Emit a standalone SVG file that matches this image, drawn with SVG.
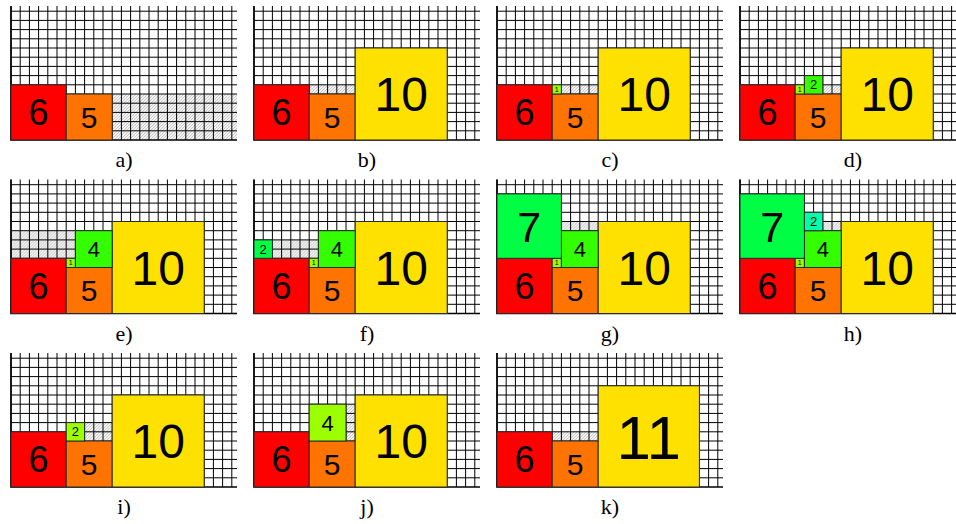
<svg xmlns="http://www.w3.org/2000/svg" xmlns:xlink="http://www.w3.org/1999/xlink" width="956" height="524" viewBox="0 0 956 524">
<style>
.grid{fill:none;stroke:#000;stroke-width:1}
.base{fill:none;stroke:#000;stroke-width:1.6}
.hatch{fill:url(#hp);stroke:none}
.b{stroke:#2a2a2a;stroke-width:1}
.red{fill:#ff0000}.org{fill:#ff7400}.yel{fill:#ffe100}
.lime{fill:#9cff00}.grn{fill:#33ff00}.g7{fill:#00ff44}.aqua{fill:#00ffa8}
.n{font-family:"Liberation Sans",Arial,sans-serif;fill:#000;text-anchor:middle}
.cap{font-family:"Liberation Serif","Times New Roman",serif;font-size:22px;fill:#000;text-anchor:middle}
</style>
<defs>
<pattern id="hp" patternUnits="userSpaceOnUse" width="3" height="3">
<rect width="3" height="3" fill="#f3f3f3"/>
<path d="M0 3L3 0M-1 1L1 -1M2 4L4 2" stroke="#b4b4b4" stroke-width="0.7"/>
</pattern>
<g id="grid">
<path class="grid" d="M0 0V134M9.2 0V134M18.4 0V134M27.6 0V134M36.8 0V134M46 0V134M55.2 0V134M64.4 0V134M73.6 0V134M82.8 0V134M92 0V134M101.2 0V134M110.4 0V134M119.6 0V134M128.8 0V134M138 0V134M147.2 0V134M156.4 0V134M165.6 0V134M174.8 0V134M184 0V134M193.2 0V134M202.4 0V134M211.6 0V134M220.8 0V134M0 124.8H226M0 115.6H226M0 106.4H226M0 97.2H226M0 88H226M0 78.8H226M0 69.6H226M0 60.4H226M0 51.2H226M0 42H226M0 32.8H226M0 23.6H226M0 14.4H226M0 5.2H226"/>
<path class="base" d="M0 0V134H226"/>
</g>
<g id="red6"><rect class="red b" x="0" y="78.8" width="55.2" height="55.2"/><text class="n" x="27.6" y="119.3" font-size="36">6</text></g>
<g id="org5"><rect class="org b" x="55.2" y="88" width="46" height="46"/><text class="n" x="78.2" y="121.7" font-size="30">5</text></g>
<g id="yel10"><rect class="yel b" x="101.2" y="42" width="92" height="92"/><text class="n" x="147.2" y="105.2" font-size="48">10</text></g>
<g id="one"><rect class="lime b" x="55.2" y="78.8" width="9.2" height="9.2"/><text class="n" x="59.8" y="85.9" font-size="7">1</text></g>
<g id="four"><rect class="grn b" x="64.4" y="51.2" width="36.8" height="36.8"/><text class="n" x="82.8" y="77.5" font-size="22">4</text></g>
<g id="seven"><rect class="g7 b" x="0" y="14.4" width="64.4" height="64.4"/><text class="n" x="32.2" y="62" font-size="43">7</text></g>
</defs>

<g id="panel-a" transform="translate(11,6)">
<rect class="hatch" x="101.2" y="88" width="124.8" height="46"/>
<use xlink:href="#grid"/>
<use xlink:href="#red6"/><use xlink:href="#org5"/>
<text class="cap" x="113" y="161">a)</text>
</g>

<g id="panel-b" transform="translate(254,6)">
<rect class="hatch" x="55.2" y="78.8" width="46" height="9.2"/>
<use xlink:href="#grid"/>
<use xlink:href="#red6"/><use xlink:href="#org5"/><use xlink:href="#yel10"/>
<text class="cap" x="113" y="161">b)</text>
</g>

<g id="panel-c" transform="translate(497,6)">
<rect class="hatch" x="64.4" y="78.8" width="36.8" height="9.2"/>
<use xlink:href="#grid"/>
<use xlink:href="#red6"/><use xlink:href="#org5"/><use xlink:href="#yel10"/><use xlink:href="#one"/>
<text class="cap" x="113" y="161">c)</text>
</g>

<g id="panel-d" transform="translate(740,6)">
<rect class="hatch" x="82.8" y="78.8" width="18.4" height="9.2"/>
<use xlink:href="#grid"/>
<use xlink:href="#red6"/><use xlink:href="#org5"/><use xlink:href="#yel10"/><use xlink:href="#one"/>
<rect class="grn b" x="64.4" y="69.6" width="18.4" height="18.4"/><text class="n" x="73.6" y="83.45" font-size="13">2</text>
<text class="cap" x="113" y="161">d)</text>
</g>

<g id="panel-e" transform="translate(11,179.5)">
<rect class="hatch" x="0" y="51.2" width="64.4" height="27.6"/>
<use xlink:href="#grid"/>
<use xlink:href="#red6"/><use xlink:href="#org5"/><use xlink:href="#yel10"/><use xlink:href="#one"/><use xlink:href="#four"/>
<text class="cap" x="113" y="161">e)</text>
</g>

<g id="panel-f" transform="translate(254,179.5)">
<rect class="hatch" x="18.4" y="60.4" width="46" height="18.4"/>
<use xlink:href="#grid"/>
<use xlink:href="#red6"/><use xlink:href="#org5"/><use xlink:href="#yel10"/><use xlink:href="#one"/><use xlink:href="#four"/>
<rect class="g7 b" x="0" y="60.4" width="18.4" height="18.4"/><text class="n" x="9.2" y="74.25" font-size="13">2</text>
<text class="cap" x="113" y="161">f)</text>
</g>

<g id="panel-g" transform="translate(497,179.5)">
<rect class="hatch" x="64.4" y="42" width="36.8" height="9.2"/>
<use xlink:href="#grid"/>
<use xlink:href="#red6"/><use xlink:href="#org5"/><use xlink:href="#yel10"/><use xlink:href="#one"/><use xlink:href="#four"/><use xlink:href="#seven"/>
<text class="cap" x="113" y="161">g)</text>
</g>

<g id="panel-h" transform="translate(740,179.5)">
<rect class="hatch" x="82.8" y="42" width="18.4" height="9.2"/>
<use xlink:href="#grid"/>
<use xlink:href="#red6"/><use xlink:href="#org5"/><use xlink:href="#yel10"/><use xlink:href="#one"/><use xlink:href="#four"/><use xlink:href="#seven"/>
<rect class="aqua b" x="64.4" y="32.8" width="18.4" height="18.4"/><text class="n" x="73.6" y="46.65" font-size="13">2</text>
<text class="cap" x="113" y="161">h)</text>
</g>

<g id="panel-i" transform="translate(11,353)">
<rect class="hatch" x="73.6" y="69.6" width="27.6" height="18.4"/>
<use xlink:href="#grid"/>
<use xlink:href="#red6"/><use xlink:href="#org5"/><use xlink:href="#yel10"/>
<rect class="lime b" x="55.2" y="69.6" width="18.4" height="18.4"/><text class="n" x="64.4" y="83.45" font-size="13">2</text>
<text class="cap" x="113" y="161">i)</text>
</g>

<g id="panel-j" transform="translate(254,353)">
<rect class="hatch" x="92" y="51.2" width="9.2" height="36.8"/>
<use xlink:href="#grid"/>
<use xlink:href="#red6"/><use xlink:href="#org5"/><use xlink:href="#yel10"/>
<rect class="lime b" x="55.2" y="51.2" width="36.8" height="36.8"/><text class="n" x="73.6" y="77.5" font-size="22">4</text>
<text class="cap" x="113" y="161">j)</text>
</g>

<g id="panel-k" transform="translate(497,353)">
<rect class="hatch" x="55.2" y="78.8" width="46" height="9.2"/>
<use xlink:href="#grid"/>
<use xlink:href="#red6"/><use xlink:href="#org5"/>
<rect class="yel b" x="101.2" y="32.8" width="101.2" height="101.2"/><text class="n" x="151.8" y="105.6" font-size="62">11</text>
<text class="cap" x="113" y="161">k)</text>
</g>
</svg>
